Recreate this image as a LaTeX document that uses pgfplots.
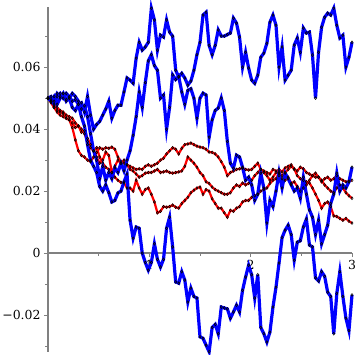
\documentclass[border=0pt]{standalone}
\usepackage{pgfplots}
\pgfplotsset{compat=1.18}
\usepackage{pgfplotstable}
\usepackage{fontspec}
\setmainfont{DejaVu Serif}
\pgfplotstableread{
x A B C R1 R2 R3
0.00 0.0500 0.0500 0.0500 0.0500 0.0500 0.0500
0.03 0.0495 0.0505 0.0490 0.0485 0.0490 0.0490
0.06 0.0480 0.0490 0.0505 0.0470 0.0475 0.0470
0.09 0.0505 0.0515 0.0480 0.0455 0.0470 0.0460
0.12 0.0515 0.0505 0.0500 0.0445 0.0460 0.0455
0.15 0.0500 0.0515 0.0515 0.0440 0.0455 0.0450
0.18 0.0515 0.0495 0.0490 0.0435 0.0445 0.0435
0.21 0.0505 0.0500 0.0500 0.0430 0.0440 0.0430
0.24 0.0490 0.0515 0.0470 0.0405 0.0435 0.0420
0.27 0.0495 0.0505 0.0460 0.0365 0.0420 0.0405
0.30 0.0480 0.0490 0.0480 0.0330 0.0410 0.0410
0.33 0.0485 0.0465 0.0440 0.0315 0.0400 0.0390
0.36 0.0455 0.0475 0.0410 0.0310 0.0385 0.0395
0.39 0.0505 0.0440 0.0350 0.0300 0.0360 0.0370
0.42 0.0445 0.0385 0.0300 0.0295 0.0340 0.0350
0.45 0.0400 0.0330 0.0280 0.0310 0.0330 0.0330
0.48 0.0415 0.0300 0.0260 0.0325 0.0310 0.0340
0.51 0.0425 0.0240 0.0215 0.0340 0.0290 0.0310
0.54 0.0445 0.0280 0.0200 0.0335 0.0300 0.0290
0.57 0.0465 0.0235 0.0220 0.0340 0.0326 0.0277
0.60 0.0490 0.0260 0.0195 0.0338 0.0315 0.0270
0.63 0.0435 0.0240 0.0165 0.0342 0.0260 0.0260
0.66 0.0460 0.0275 0.0170 0.0335 0.0280 0.0245
0.69 0.0477 0.0260 0.0194 0.0310 0.0300 0.0235
0.72 0.0477 0.0290 0.0200 0.0295 0.0290 0.0228
0.75 0.0520 0.0265 0.0230 0.0290 0.0300 0.0226
0.78 0.0565 0.0300 0.0255 0.0285 0.0285 0.0210
0.81 0.0558 0.0330 0.0106 0.0280 0.0270 0.0210
0.84 0.0548 0.0380 0.0048 0.0275 0.0265 0.0200
0.87 0.0629 0.0440 0.0084 0.0270 0.0255 0.0235
0.90 0.0680 0.0520 0.0080 0.0272 0.0245 0.0210
0.93 0.0655 0.0470 0.0000 0.0270 0.0250 0.0190
0.96 0.0665 0.0550 -0.0030 0.0280 0.0258 0.0205
0.99 0.0680 0.0620 -0.0055 0.0285 0.0260 0.0210
1.02 0.0790 0.0640 -0.0030 0.0280 0.0260 0.0190
1.05 0.0752 0.0605 0.0030 0.0285 0.0265 0.0165
1.08 0.0655 0.0590 -0.0020 0.0290 0.0270 0.0130
1.11 0.0703 0.0500 -0.0045 0.0300 0.0260 0.0135
1.14 0.0697 0.0510 -0.0020 0.0306 0.0262 0.0150
1.17 0.0752 0.0400 0.0080 0.0320 0.0265 0.0148
1.20 0.0713 0.0470 0.0116 0.0330 0.0260 0.0150
1.23 0.0700 0.0575 0.0020 0.0340 0.0258 0.0155
1.26 0.0590 0.0560 -0.0093 0.0335 0.0260 0.0148
1.29 0.0568 0.0570 -0.0097 0.0320 0.0262 0.0145
1.32 0.0580 0.0520 -0.0060 0.0338 0.0265 0.0160
1.35 0.0565 0.0480 -0.0087 0.0350 0.0280 0.0170
1.38 0.0542 0.0525 -0.0158 0.0352 0.0310 0.0180
1.41 0.0555 0.0530 -0.0113 0.0355 0.0300 0.0195
1.44 0.0590 0.0500 -0.0140 0.0350 0.0290 0.0203
1.47 0.0640 0.0435 -0.0145 0.0345 0.0277 0.0210
1.50 0.0680 0.0500 -0.0270 0.0342 0.0260 0.0213
1.53 0.0768 0.0516 -0.0275 0.0340 0.0250 0.0190
1.56 0.0777 0.0510 -0.0297 0.0335 0.0230 0.0205
1.59 0.0670 0.0374 -0.0318 0.0326 0.0225 0.0200
1.62 0.0640 0.0430 -0.0240 0.0325 0.0213 0.0175
1.65 0.0670 0.0460 -0.0230 0.0320 0.0205 0.0160
1.68 0.0720 0.0468 -0.0260 0.0310 0.0200 0.0145
1.71 0.0700 0.0500 -0.0174 0.0295 0.0195 0.0145
1.74 0.0700 0.0460 -0.0177 0.0277 0.0190 0.0130
1.77 0.0705 0.0360 -0.0180 0.0250 0.0190 0.0116
1.80 0.0710 0.0290 -0.0210 0.0260 0.0195 0.0138
1.83 0.0758 0.0274 -0.0190 0.0265 0.0210 0.0135
1.86 0.0742 0.0316 -0.0168 0.0270 0.0220 0.0145
1.89 0.0697 0.0310 -0.0190 0.0272 0.0215 0.0150
1.92 0.0600 0.0277 -0.0120 0.0274 0.0226 0.0165
1.95 0.0648 0.0235 -0.0077 0.0270 0.0220 0.0170
1.98 0.0597 0.0245 -0.0039 0.0268 0.0225 0.0170
2.01 0.0558 0.0220 -0.0070 0.0270 0.0235 0.0180
2.04 0.0548 0.0170 -0.0145 0.0280 0.0250 0.0185
2.07 0.0574 0.0190 -0.0070 0.0290 0.0260 0.0190
2.10 0.0632 0.0258 -0.0240 0.0270 0.0270 0.0200
2.13 0.0645 0.0210 -0.0260 0.0260 0.0265 0.0205
2.16 0.0677 0.0097 -0.0287 0.0250 0.0260 0.0210
2.19 0.0745 0.0170 -0.0255 0.0235 0.0255 0.0225
2.22 0.0768 0.0150 -0.0174 0.0245 0.0270 0.0235
2.25 0.0735 0.0200 -0.0110 0.0260 0.0265 0.0240
2.28 0.0600 0.0260 -0.0032 0.0270 0.0250 0.0258
2.31 0.0665 0.0210 0.0050 0.0262 0.0240 0.0250
2.34 0.0558 0.0258 0.0074 0.0275 0.0235 0.0260
2.37 0.0574 0.0240 0.0090 0.0280 0.0245 0.0270
2.40 0.0590 0.0220 0.0060 0.0285 0.0225 0.0280
2.43 0.0671 0.0200 -0.0023 0.0270 0.0230 0.0272
2.46 0.0694 0.0210 0.0035 0.0265 0.0215 0.0250
2.49 0.0648 0.0177 0.0040 0.0277 0.0200 0.0240
2.52 0.0726 0.0245 0.0084 0.0272 0.0210 0.0235
2.55 0.0710 0.0190 0.0110 0.0260 0.0220 0.0230
2.58 0.0713 0.0139 0.0026 0.0255 0.0235 0.0226
2.61 0.0639 0.0116 0.0020 0.0250 0.0250 0.0210
2.64 0.0500 0.0060 -0.0080 0.0245 0.0258 0.0190
2.67 0.0648 0.0106 -0.0090 0.0245 0.0245 0.0170
2.70 0.0729 0.0030 -0.0060 0.0230 0.0235 0.0145
2.73 0.0761 0.0060 -0.0075 0.0240 0.0220 0.0160
2.76 0.0774 0.0090 -0.0126 0.0245 0.0210 0.0165
2.79 0.0768 0.0160 -0.0140 0.0235 0.0200 0.0150
2.82 0.0790 0.0190 -0.0260 0.0240 0.0195 0.0120
2.85 0.0735 0.0258 -0.0130 0.0250 0.0210 0.0118
2.88 0.0694 0.0200 -0.0060 0.0240 0.0220 0.0112
2.91 0.0703 0.0220 -0.0140 0.0235 0.0210 0.0106
2.94 0.0600 0.0210 -0.0210 0.0230 0.0195 0.0112
2.97 0.0632 0.0230 -0.0250 0.0232 0.0185 0.0103
3.00 0.0680 0.0277 -0.0135 0.0235 0.0177 0.0097
}\data
\pgfplotsset{
  mk/.style={mark=diamond, mark size=1.4bp,
    mark options={solid, draw=black, line width=0.55bp}},
}
\begin{document}
\begin{tikzpicture}
\begin{axis}[
  scale only axis, width=304bp, height=345bp,
  xmin=0, xmax=3, ymin=-0.0319, ymax=0.0794,
  clip=false,
  axis x line=middle, axis y line=left,
  axis line style={-, draw=gray, line width=1.3bp},
  xtick={1,2,3}, xticklabels={1,2,3},
  minor xtick={0.5,1.5,2.5},
  ytick={-0.02,0,0.02,0.04,0.06},
  yticklabels={−0.02,0,0.02,0.04,0.06},
  minor ytick={-0.03,-0.01,0.01,0.03,0.05,0.07},
  tick style={draw=gray, line width=0.8bp},
  tick align=outside,
  major tick length=4bp, minor tick length=2.5bp,
  ticklabel style={font=\fontsize{12.5}{14}\selectfont},
  scaled y ticks=false,
]
\coordinate (sw) at (rel axis cs:0,0);
\coordinate (ne) at (rel axis cs:1,1);
\addplot[red, line width=2.2bp, mk] table[x=x, y=R1] {\data};
\addplot[red, line width=2.2bp, mk] table[x=x, y=R2] {\data};
\addplot[red, line width=2.2bp, mk] table[x=x, y=R3] {\data};
\addplot[blue, line width=3.2bp, mk] table[x=x, y=C] {\data};
\addplot[blue, line width=3.2bp, mk] table[x=x, y=B] {\data};
\addplot[blue, line width=3.2bp, mk] table[x=x, y=A] {\data};
\end{axis}
\pgfresetboundingbox
\path ([shift={(-48bp,-3bp)}]sw) rectangle ([shift={(3bp,7bp)}]ne);
\end{tikzpicture}
\end{document}
